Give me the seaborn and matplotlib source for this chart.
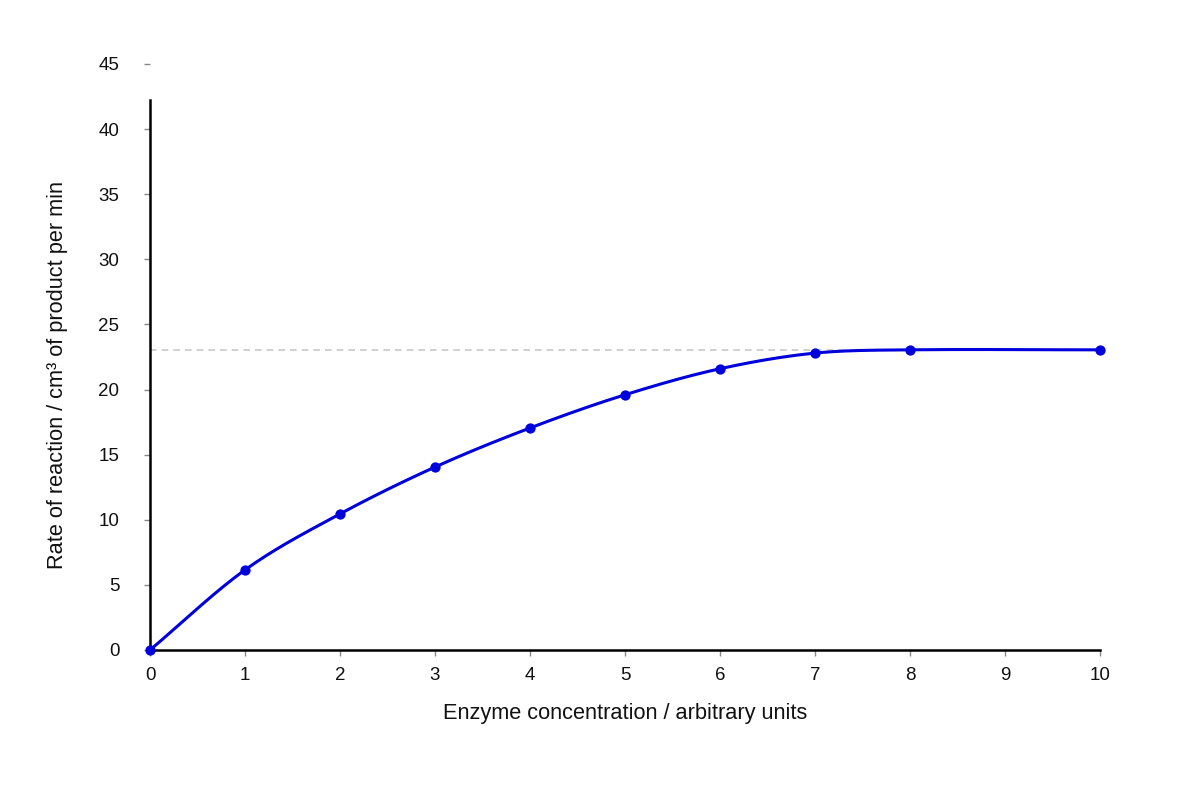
import numpy as np
import pandas as pd
import matplotlib
matplotlib.use("Agg")
import matplotlib.pyplot as plt
import seaborn as sns

# values
enzyme_conc = [0, 1, 2, 3, 4, 5, 6, 7, 8, 10]
rate = [0, 6.15, 10.45, 14.05, 17.05, 19.6, 21.6, 22.8, 23.05, 23.05]
plateau = 23.05
y_ticks = [0, 5, 10, 15, 20, 25, 30, 35, 40, 45]
x_ticks = [0, 1, 2, 3, 4, 5, 6, 7, 8, 9, 10]

line_col = "#0000dd"
y_axis_top = 42.2


def smooth_curve(x, y, n=40):
    # cubic Hermite with Catmull-Rom style tangents, just for drawing the line
    x = np.asarray(x, float)
    y = np.asarray(y, float)
    h = np.diff(x)
    m = np.zeros_like(y)
    m[0] = (y[1] - y[0]) / h[0]
    m[-1] = (y[-1] - y[-2]) / h[-1]
    for i in range(1, len(x) - 1):
        m[i] = (y[i + 1] - y[i - 1]) / (x[i + 1] - x[i - 1])
    xs, ys = [], []
    for i in range(len(x) - 1):
        t = np.linspace(0, 1, n, endpoint=(i == len(x) - 2))
        h00 = 2 * t**3 - 3 * t**2 + 1
        h10 = t**3 - 2 * t**2 + t
        h01 = -2 * t**3 + 3 * t**2
        h11 = t**3 - t**2
        xs.append(x[i] + t * h[i])
        ys.append(h00 * y[i] + h10 * h[i] * m[i] + h01 * y[i + 1] + h11 * h[i] * m[i + 1])
    return np.concatenate(xs), np.concatenate(ys)


sns.set_theme(style="white")
plt.rcParams["font.family"] = ["Liberation Sans", "DejaVu Sans"]

fig = plt.figure(figsize=(12, 8), dpi=100)
ax = fig.add_axes([0.125, 0.1875, 0.7917, 0.7325])

points = pd.DataFrame({"x": enzyme_conc, "y": rate})
cx, cy = smooth_curve(enzyme_conc, rate)
curve = pd.DataFrame({"x": cx, "y": cy})

ax.plot([0, 8], [plateau, plateau], color="#c8c8c8", lw=1.2, ls=(0, (4, 3)), zorder=1)
sns.lineplot(data=curve, x="x", y="y", ax=ax, color=line_col, lw=2.2, sort=False, zorder=3)
sns.scatterplot(data=points, x="x", y="y", ax=ax, color=line_col, s=55,
                edgecolor=line_col, linewidth=0, zorder=4, clip_on=False)

ax.set_xlim(0, 10)
ax.set_ylim(0, 45)
ax.set_xticks(x_ticks)
ax.set_yticks(y_ticks)
ax.set_xticklabels([str(v) for v in x_ticks])
ax.set_yticklabels([str(v) for v in y_ticks])

for side in ["top", "right"]:
    ax.spines[side].set_visible(False)
ax.spines["left"].set_bounds(0, y_axis_top)
ax.spines["left"].set_color("black")
ax.spines["bottom"].set_color("black")
ax.spines["left"].set_linewidth(1.8)
ax.spines["bottom"].set_linewidth(1.8)

ax.tick_params(axis="y", which="both", left=True, length=4, width=1, color="#888888",
               pad=18, labelsize=13.5, labelcolor="#111111")
ax.tick_params(axis="x", which="both", bottom=True, length=4, width=1, color="#888888",
               pad=8, labelsize=13.5, labelcolor="#111111")

ax.set_xlabel("Enzyme concentration / arbitrary units", fontsize=15.7, labelpad=14, color="#111111")
ax.set_ylabel("Rate of reaction / cm³ of product per min", fontsize=15.7, labelpad=22, color="#111111")
# label centred on the drawn part of the y axis
ax.yaxis.label.set_y(y_axis_top / 2 / 45)

fig.savefig("out.png", dpi=100)
